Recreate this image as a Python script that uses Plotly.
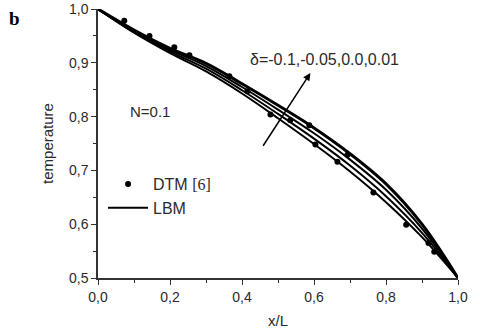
import plotly.graph_objects as go

# ---- data ----
x_lbm = [0.0, 0.1, 0.2, 0.3, 0.4, 0.5, 0.6, 0.7, 0.8, 0.9, 1.0]
t_d_m010 = [1.0, 0.956, 0.918, 0.884, 0.843, 0.797, 0.749, 0.698, 0.641, 0.576, 0.5]
t_d_m005 = [1.0, 0.957, 0.921, 0.889, 0.849, 0.805, 0.759, 0.709, 0.652, 0.584, 0.5]
t_d_000 = [1.0, 0.959, 0.924, 0.894, 0.855, 0.813, 0.769, 0.720, 0.664, 0.592, 0.5]
t_d_001 = [1.0, 0.961, 0.927, 0.899, 0.861, 0.821, 0.779, 0.731, 0.675, 0.600, 0.5]

x_dtm = [0.073, 0.143, 0.212, 0.254, 0.365, 0.415, 0.479, 0.534, 0.587, 0.604,
         0.665, 0.693, 0.765, 0.856, 0.918, 0.934]
t_dtm = [0.978, 0.950, 0.929, 0.914, 0.875, 0.847, 0.804, 0.793, 0.784, 0.748,
         0.716, 0.729, 0.659, 0.599, 0.565, 0.549]

x_ticks = [0.0, 0.2, 0.4, 0.6, 0.8, 1.0]
x_ticklabels = ["0,0", "0,2", "0,4", "0,6", "0,8", "1,0"]
y_ticks = [0.5, 0.6, 0.7, 0.8, 0.9, 1.0]
y_ticklabels = ["0,5", "0,6", "0,7", "0,8", "0,9", "1,0"]

FONT = "Liberation Sans, Arial, sans-serif"
TXT = "#2a2a2a"

fig = go.Figure()

fig.add_trace(go.Scatter(
    x=x_dtm, y=t_dtm, mode="markers",
    marker=dict(color="black", size=6),
    name="DTM <span style='font-family:Liberation Serif'>[6]</span>",
    legendrank=1,
))

series = [t_d_m010, t_d_m005, t_d_000, t_d_001]
widths = [2, 2, 2, 3]
for i, (ys, w) in enumerate(zip(series, widths)):
    fig.add_trace(go.Scatter(
        x=x_lbm, y=ys, mode="lines",
        line=dict(color="black", width=w, shape="spline", smoothing=1.0),
        name="LBM", showlegend=(i == 0), legendrank=2,
    ))

axis_common = dict(
    showgrid=False, zeroline=False, showline=True, linecolor="#333333",
    linewidth=1.5, ticks="outside", ticklen=5, tickwidth=1.2, tickcolor="#333333",
    tickfont=dict(family=FONT, size=14, color=TXT), automargin=False,
)

fig.update_xaxes(
    range=[0, 1], tickvals=x_ticks, ticktext=x_ticklabels,
    minor=dict(dtick=0.1, ticks="outside", ticklen=3, tickcolor="#333333"),
    title=dict(text="x/L", font=dict(family=FONT, size=15, color=TXT), standoff=12),
    **axis_common,
)
fig.update_yaxes(
    range=[0.5, 1.0], tickvals=y_ticks, ticktext=y_ticklabels,
    minor=dict(dtick=0.05, ticks="outside", ticklen=3, tickcolor="#333333"),
    title=dict(text="temperature", font=dict(family=FONT, size=15, color=TXT), standoff=12),
    **axis_common,
)

fig.add_annotation(x=0.145, y=0.810, text="N=0.1", showarrow=False,
                   font=dict(family=FONT, size=15, color=TXT))
fig.add_annotation(x=0.628, y=0.907, text="δ=-0.1,-0.05,0.0,0.01", showarrow=False,
                   font=dict(family=FONT, size=16, color=TXT))
fig.add_annotation(x=0.590, y=0.881, ax=0.456, ay=0.743, axref="x", ayref="y",
                   xref="x", yref="y", text="", showarrow=True,
                   arrowhead=2, arrowsize=1, arrowwidth=1.5, arrowcolor="black")
fig.add_annotation(xref="paper", yref="paper", x=-0.252, y=1.012, xanchor="left",
                   yanchor="top", text="<b>b</b>", showarrow=False,
                   font=dict(family="Liberation Serif, serif", size=19, color="black"))

fig.update_layout(
    width=480, height=333,
    margin=dict(l=98, r=22, t=9, b=55),
    paper_bgcolor="white", plot_bgcolor="white",
    showlegend=True,
    legend=dict(x=0.014, y=0.412, xanchor="left", yanchor="top",
                bgcolor="rgba(0,0,0,0)", font=dict(family=FONT, size=16, color=TXT),
                itemwidth=40, tracegroupgap=0),
)

fig.write_html("out.html", config={"displayModeBar": False},
               post_script="document.body.style.margin='0';")
